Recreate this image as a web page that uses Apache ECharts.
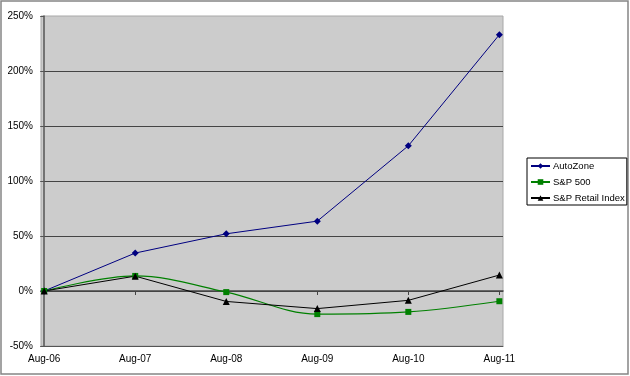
<!DOCTYPE html>
<html>
<head>
<meta charset="utf-8">
<script src="https://cdn.jsdelivr.net/npm/echarts@6/dist/echarts.min.js"></script>
<style>
  html, body { margin: 0; padding: 0; background: #fff; }
  #main { width: 630px; height: 376px; }
</style>
</head>
<body>
<div id="main"></div>
<script>
// categories + series values (percent change from Aug-06)
var categories = ['Aug-06', 'Aug-07', 'Aug-08', 'Aug-09', 'Aug-10', 'Aug-11'];
var autoZone = [0, 34.5, 52, 63.5, 132, 233];
var sp500 = [0, 13.7, -1, -21, -19, -9.3];
var spRetail = [0, 13.5, -9.5, -16, -8.5, 14.5];
var yTicks = [-50, 0, 50, 100, 150, 200, 250];

var font = 'Liberation Sans, Arial, sans-serif';
var chart = echarts.init(document.getElementById('main'));

function pts(arr) {
  return arr.map(function (v, i) { return [i, v]; });
}

var catIdx = categories.map(function (c, i) { return i; });

var xBase = {
  type: 'value',
  min: -0.035,
  max: 5.04,
  splitLine: { show: false }
};

var option = {
  backgroundColor: '#fff',
  animation: false,
  textStyle: { fontFamily: font },
  grid: {
    left: 41, top: 16, width: 462, height: 330,
    show: true, backgroundColor: '#cccccc',
    borderColor: '#a8a8a8', borderWidth: 1
  },
  graphic: [{
    type: 'rect',
    shape: { x: 1, y: 1, width: 627, height: 373 },
    style: { fill: 'none', stroke: '#858585', lineWidth: 1.5 },
    silent: true
  }],
  legend: {
    orient: 'vertical',
    left: 527, top: 158,
    itemWidth: 19, itemHeight: 7, itemGap: 4,
    padding: [2, 2, 1, 3],
    borderColor: '#000', borderWidth: 1,
    backgroundColor: '#fff',
    textStyle: { fontFamily: font, fontSize: 9.5, lineHeight: 12, color: '#000', padding: [0, 0, 0, -2] },
    data: ['AutoZone', 'S&P 500', 'S&P Retail Index']
  },
  xAxis: [
    Object.assign({}, xBase, {
      position: 'bottom',
      axisLine: { onZero: false, lineStyle: { color: '#555', width: 1 } },
      axisTick: { show: false },
      axisLabel: {
        customValues: catIdx,
        color: '#000', fontFamily: font, fontSize: 10, margin: 8,
        formatter: function (v) { return categories[Math.round(v)]; }
      }
    }),
    Object.assign({}, xBase, {
      position: 'bottom',
      axisLine: { onZero: true, lineStyle: { color: '#444', width: 1.5 } },
      axisTick: { show: true, customValues: catIdx.slice(1), length: 4, lineStyle: { color: '#444' } },
      axisLabel: { show: false }
    })
  ],
  yAxis: {
    type: 'value',
    min: -50, max: 250, interval: 50,
    axisLine: { show: true, lineStyle: { color: '#555', width: 1.5 } },
    axisTick: { show: true, length: 4, lineStyle: { color: '#555' } },
    axisLabel: {
      color: '#000', fontFamily: font, fontSize: 10, margin: 8,
      formatter: function (v) { return v + '%'; }
    },
    splitLine: { show: true, showMaxLine: false, lineStyle: { color: '#444', width: 1 } }
  },
  series: [
    {
      name: 'AutoZone', type: 'line', data: pts(autoZone),
      symbol: 'diamond', symbolSize: 7,
      itemStyle: { color: '#000080' },
      lineStyle: { color: '#000080', width: 1 }
    },
    {
      name: 'S&P 500', type: 'line', data: pts(sp500),
      symbol: 'rect', symbolSize: 6, smooth: 0.35,
      itemStyle: { color: '#008000' },
      lineStyle: { color: '#008000', width: 1.2 }
    },
    {
      name: 'S&P Retail Index', type: 'line', data: pts(spRetail),
      symbol: 'triangle', symbolSize: 7,
      itemStyle: { color: '#000' },
      lineStyle: { color: '#000', width: 1 }
    }
  ]
};
chart.setOption(option);
</script>
</body>
</html>
